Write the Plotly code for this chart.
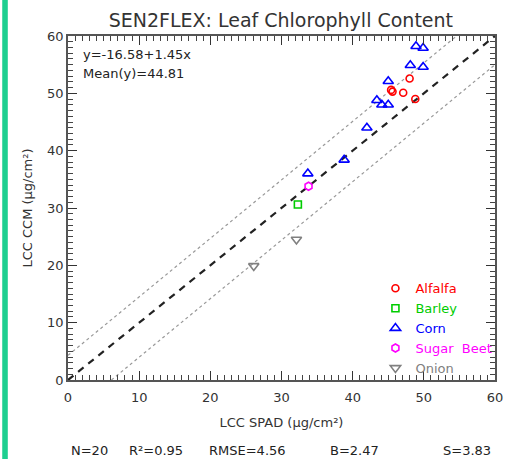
import plotly.graph_objects as go

# ---- data ----
alfalfa_x = [45.4, 45.6, 47.1, 48.0, 48.8]
alfalfa_y = [50.6, 50.3, 50.1, 52.6, 49.0]
barley_x = [32.3]
barley_y = [30.6]
corn_x = [48.9, 49.9, 48.1, 49.9, 45.0, 43.4, 44.1, 45.0, 42.0, 38.8, 33.7]
corn_y = [58.2, 57.9, 54.9, 54.6, 52.1, 48.8, 48.0, 48.0, 44.0, 38.4, 36.0]
beet_x = [33.8]
beet_y = [33.8]
onion_x = [32.1, 26.1]
onion_y = [24.5, 19.9]

one_x = [0, 60]
one_y = [0, 60]
upper_x = [0, 54.6]
upper_y = [4.3, 60]
lower_x = [6.1, 60]
lower_y = [0, 55]

title = "SEN2FLEX: Leaf Chlorophyll Content"
x_title = "LCC SPAD (μg/cm²)"
y_title = "LCC CCM (μg/cm²)"
fit_text = ["y=-16.58+1.45x", "Mean(y)=44.81"]
stats = ["N=20", "R²=0.95", "RMSE=4.56", "B=2.47", "S=3.83"]
stats_x = [0.05, 0.205, 0.42, 0.67, 0.935]

FONT = "DejaVu Sans"
fig = go.Figure()

fig.add_trace(go.Scatter(x=upper_x, y=upper_y, mode="lines", showlegend=False,
                         line=dict(color="#999999", width=1.2, dash="dot"), hoverinfo="skip"))
fig.add_trace(go.Scatter(x=lower_x, y=lower_y, mode="lines", showlegend=False,
                         line=dict(color="#999999", width=1.2, dash="dot"), hoverinfo="skip"))
fig.add_trace(go.Scatter(x=one_x, y=one_y, mode="lines", showlegend=False,
                         line=dict(color="#222222", width=2.2, dash="7px,6px"), hoverinfo="skip"))

series = [
    ("Alfalfa", alfalfa_x, alfalfa_y, "circle-open", "#ff0000", 7),
    ("Barley", barley_x, barley_y, "square-open", "#00cc00", 7),
    ("Corn", corn_x, corn_y, "triangle-up-open", "#0000ff", 9),
    ("Sugar  Beet", beet_x, beet_y, "hexagon-open", "#ff00ff", 8),
    ("Onion", onion_x, onion_y, "triangle-down-open", "#808080", 9),
]
for name, xs, ys, sym, col, sz in series:
    fig.add_trace(go.Scatter(
        x=xs, y=ys, mode="markers",
        name=f"<span style='color:{col}'>{name}</span>",
        marker=dict(symbol=sym, color=col, size=sz, line=dict(width=1.6, color=col)),
    ))

# transparent trace to carry the mirrored (top/right) axes
fig.add_trace(go.Scatter(x=one_x, y=one_y, xaxis="x2", yaxis="y2", mode="lines",
                         line=dict(width=0), opacity=0,
                         showlegend=False, hoverinfo="skip"))

tick_common = dict(
    range=[0, 60], dtick=10, ticks="inside", ticklen=9, tickwidth=1.2,
    tickcolor="#333333", showgrid=False, zeroline=False,
    minor=dict(dtick=1, ticks="inside", ticklen=5, tickwidth=1,
               tickcolor="#444444", showgrid=False),
)
tfont = dict(family=FONT, size=13, color="#333333")

fig.update_layout(
    width=506, height=459,
    margin=dict(l=68, r=11, t=36, b=79, autoexpand=False),
    paper_bgcolor="white", plot_bgcolor="white",
    title=dict(text=title, x=0.555, xanchor="center", y=0.955, yanchor="middle",
               font=dict(family=FONT, size=19, color="#333333")),
    xaxis=dict(**tick_common, showline=True, linecolor="#555555", linewidth=1.5,
               mirror=True, tickfont=tfont, ticklabelstandoff=5,
               title=dict(text=x_title, standoff=14,
                          font=dict(family=FONT, size=13, color="#333333"))),
    yaxis=dict(**tick_common, showline=True, linecolor="#555555", linewidth=1.5,
               mirror=True, tickfont=tfont,
               title=dict(text=y_title, standoff=12,
                          font=dict(family=FONT, size=13, color="#333333"))),
    xaxis2=dict(**tick_common, overlaying="x", side="top", showticklabels=False,
                showline=False, anchor="y2"),
    yaxis2=dict(**tick_common, overlaying="y", side="right", showticklabels=False,
                showline=False, anchor="x2"),
    legend=dict(x=0.72, y=0.31, xanchor="left", yanchor="top",
                bgcolor="rgba(0,0,0,0)", font=dict(family=FONT, size=13),
                itemwidth=30, tracegroupgap=0),
    shapes=[dict(type="rect", xref="paper", yref="paper", x0=-0.154, x1=-0.141,
                 y0=-0.24, y1=1.11, fillcolor="#1ecf90", line=dict(width=0))],
)

for i, t in enumerate(fit_text):
    fig.add_annotation(x=0.03, y=0.975 - i * 0.055, xref="paper", yref="paper",
                       xanchor="left", yanchor="top", showarrow=False, text=t,
                       font=dict(family=FONT, size=13, color="#222222"))

for t, sx in zip(stats, stats_x):
    fig.add_annotation(x=sx, y=-0.205, xref="paper", yref="paper",
                       xanchor="center", yanchor="middle", showarrow=False, text=t,
                       font=dict(family=FONT, size=13, color="#222222"))

fig.write_html("out.html")
